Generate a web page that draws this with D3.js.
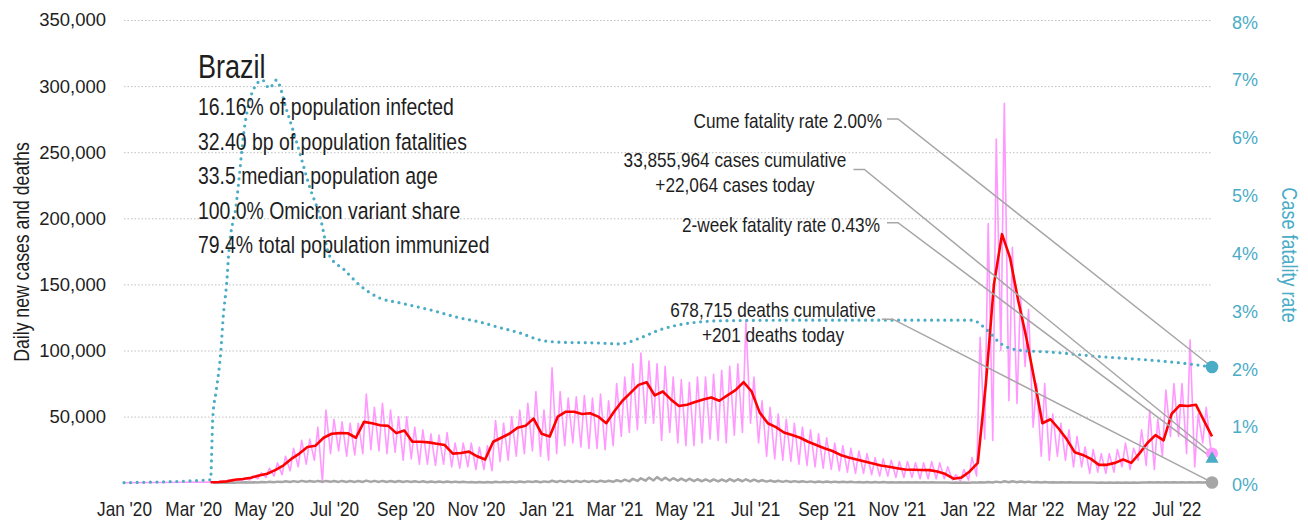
<!DOCTYPE html>
<html>
<head>
<meta charset="utf-8">
<script src="https://cdnjs.cloudflare.com/ajax/libs/d3/7.8.5/d3.min.js"></script>
<style>
  body { margin: 0; background: #fff; }
  svg { display: block; }
  svg text { font-family: 'Liberation Sans', Arial, sans-serif; }
</style>
</head>
<body>
<svg id="chart" width="1308" height="520"></svg>
<script>
// ---- data -------------------------------------------------------------
const seriesStart = "2020-01-01";
const seriesEnd = "2022-08-01";
const weekStart = "2020-03-16";   // first Monday of the weekly series

// 7-day average of new cases, one value per week (Mondays)
const cases7 = [
  300, 500, 1000, 2200, 2800, 3800, 5500, 6800, 9500, 13000,
  18000, 22000, 27000, 28000, 34000, 37000, 37500, 37400, 34000, 46000,
  45000, 43500, 43000, 37500, 39500, 31000, 31000, 30500, 29500, 28500,
  22000, 22500, 23500, 20000, 17500, 31000, 34000, 37000, 41500, 43000,
  48500, 37000, 35000, 50000, 53700, 53700, 52000, 52500, 50000, 45000,
  54000, 62000, 68000, 74000, 76000, 66000, 69000, 63000, 58000, 59000,
  61000, 63000, 64500, 62000, 66000, 70000, 76000, 69000, 53000, 45000,
  42000, 38000, 36000, 34000, 31000, 28500, 26000, 24000, 21000, 19000,
  17500, 16000, 14500, 13000, 12000, 11000, 10000, 9800, 9600, 9500,
  8500, 6500, 3000, 4000, 8500, 15000, 75000, 150000, 188000, 170000,
  138000, 110000, 78000, 45000, 48000, 41000, 33000, 23000, 21000, 18000,
  13500, 13500, 15000, 17500, 15000, 22000, 30000, 36000, 32000, 52000,
  58500, 58000, 59000, 47000, 35000
];

// daily new cases: mid-week high and weekend low of each week
const casesHigh = [
  500, 1200, 1800, 2500, 3500, 5000, 7500, 11000, 15000, 20000,
  26000, 32000, 33000, 42000, 55000, 48000, 46000, 45000, 45000, 67000,
  57000, 60000, 55000, 50000, 50000, 42000, 40000, 37000, 36000, 38000,
  30000, 30000, 30000, 27000, 28000, 47000, 45000, 50000, 55000, 60000,
  69000, 55000, 87000, 69000, 64000, 65000, 66000, 64000, 67000, 62000,
  75000, 80000, 90000, 98000, 92000, 90000, 88000, 80000, 78000, 76000,
  80000, 80000, 82000, 85000, 88000, 90000, 122000, 80000, 62000, 57000,
  52000, 48000, 45000, 42000, 40000, 37000, 34000, 30000, 28000, 26000,
  24000, 22000, 19000, 18000, 17000, 16000, 16000, 15000, 15000, 16000,
  15000, 12000, 6000, 10000, 19000, 110000, 196000, 260000, 287000, 178000,
  141000, 131000, 75000, 75000, 52000, 45000, 40000, 35000, 27000, 25000,
  22000, 22000, 25000, 30000, 26000, 40000, 55000, 48000, 70000, 75000,
  75000, 108000, 52000, 57000
];
const casesLow = [
  300, 500, 1000, 1500, 2000, 3000, 4000, 5000, 6000, 9000,
  12000, 14000, 17000, 0, 22000, 24000, 20000, 21000, 22000, 25000,
  24000, 22000, 23000, 17000, 18000, 14000, 14000, 13000, 14000, 12000,
  11000, 12000, 10000, 10000, 9000, 16000, 17000, 20000, 22000, 24000,
  20000, 17000, 22000, 28000, 30000, 27000, 26000, 26000, 25000, 28000,
  35000, 38000, 40000, 45000, 45000, 32000, 38000, 30000, 28000, 28000,
  30000, 33000, 32000, 30000, 36000, 38000, 45000, 30000, 20000, 18000,
  17000, 16000, 14000, 13000, 12000, 11000, 10000, 9000, 8000, 7000,
  7000, 6000, 5000, 5000, 4000, 4000, 4000, 3000, 3000, 3000,
  3000, 2000, 1000, 2000, 5000, 33000, 32000, 100000, 62000, 60000,
  88000, 42000, 20000, 17000, 20000, 17000, 12000, 12000, 7000, 8000,
  7000, 8000, 12000, 10000, 17000, 13000, 10000, 20000, 35000, 35000,
  22000, 12000, 30000, 25000
];

// daily new deaths: mid-week high and weekend low of each week
const deathsHigh = [
  10, 30, 80, 150, 250, 300, 450, 650, 800, 1100,
  1200, 1400, 1300, 1350, 1350, 1300, 1350, 1300, 1300, 1600,
  1400, 1350, 1300, 1250, 1200, 1100, 1100, 950, 900, 850,
  800, 700, 600, 550, 500, 750, 700, 800, 850, 1000,
  1100, 1000, 1500, 1400, 1400, 1400, 1400, 1400, 1450, 1500,
  1900, 2300, 2900, 3300, 3800, 4200, 3800, 3400, 3100, 3000,
  2600, 2500, 2500, 2400, 2700, 2600, 2600, 2300, 1900, 1600,
  1500, 1400, 1200, 1100, 1000, 950, 850, 800, 700, 650,
  600, 550, 500, 450, 400, 350, 300, 300, 280, 260,
  200, 150, 130, 150, 200, 300, 550, 800, 1100, 1100,
  950, 800, 600, 500, 400, 350, 250, 200, 180, 150,
  150, 150, 160, 180, 150, 200, 250, 300, 300, 350,
  380, 400, 330, 300
];
const deathsLow = [
  0, 10, 30, 60, 100, 150, 250, 350, 450, 550,
  600, 650, 650, 650, 650, 600, 600, 600, 600, 650,
  600, 600, 550, 500, 500, 450, 400, 380, 350, 320,
  300, 250, 200, 200, 200, 250, 300, 350, 400, 450,
  400, 450, 500, 550, 550, 600, 600, 600, 650, 700,
  900, 1000, 1300, 1500, 1700, 1800, 1700, 1500, 1300, 1200,
  1100, 1000, 1000, 1000, 1100, 1100, 1000, 900, 800, 700,
  600, 550, 500, 450, 400, 350, 320, 300, 280, 250,
  230, 200, 180, 160, 150, 120, 100, 100, 90, 80,
  60, 50, 40, 50, 60, 100, 150, 250, 300, 350,
  300, 250, 200, 150, 120, 100, 80, 70, 60, 50,
  50, 50, 50, 50, 50, 60, 80, 100, 100, 120,
  130, 130, 110, 100
];

// cumulative case fatality rate (%)
const cfrDates = [
  "2020-01-01", "2020-03-16", "2020-03-18", "2020-03-21", "2020-03-25", "2020-03-27",
  "2020-03-30", "2020-04-01", "2020-04-07", "2020-04-15", "2020-04-22", "2020-04-30",
  "2020-05-06", "2020-05-12", "2020-05-21", "2020-05-29", "2020-06-10", "2020-06-19",
  "2020-06-27", "2020-07-10", "2020-07-23", "2020-08-10", "2020-08-27", "2020-09-22",
  "2020-10-18", "2020-11-04", "2020-11-22", "2020-12-09", "2020-12-26", "2021-01-12",
  "2021-02-16", "2021-03-06", "2021-03-23", "2021-04-09", "2021-04-26", "2021-05-14",
  "2021-06-01", "2021-08-09", "2021-11-04", "2022-01-05", "2022-01-18", "2022-01-29",
  "2022-02-15", "2022-03-13", "2022-04-26", "2022-06-08", "2022-07-05", "2022-08-01"
];
const cfrValues = [
  0, 0.05, 1.14, 1.60, 2.29, 2.87,
  3.45, 4.02, 4.77, 6.22, 6.79, 6.96,
  6.82, 6.96, 6.44, 5.93, 5.11, 4.59,
  3.93, 3.68, 3.42, 3.19, 3.11, 2.99,
  2.85, 2.78, 2.68, 2.59, 2.47, 2.43,
  2.415, 2.40, 2.50, 2.64, 2.73, 2.78,
  2.80, 2.81, 2.81, 2.81, 2.64, 2.42,
  2.29, 2.26, 2.18, 2.12, 2.07, 2.00
];

// latest figures
const casesToday = 22064;
const deathsToday = 201;
const casesCumulative = 33855964;
const deathsCumulative = 678715;
const cumeFatalityRate = 2.00;
const twoWeekFatalityRate = 0.43;

const country = "Brazil";
const facts = [
  "16.16% of population infected",
  "32.40 bp of population fatalities",
  "33.5 median population age",
  "100.0% Omicron variant share",
  "79.4% total population immunized"
];

const countTicks = [50000, 100000, 150000, 200000, 250000, 300000, 350000];
const rateTicks = [0, 1, 2, 3, 4, 5, 6, 7, 8];
const monthTicks = [
  "2020-01-01", "2020-03-01", "2020-05-01", "2020-07-01", "2020-09-01", "2020-11-01",
  "2021-01-01", "2021-03-01", "2021-05-01", "2021-07-01", "2021-09-01", "2021-11-01",
  "2022-01-01", "2022-03-01", "2022-05-01", "2022-07-01"
];

// ---- colours & type ----------------------------------------------------------
const C_CASES = "#ff99ff", C_AVG = "#ff0000", C_DEATHS = "#a6a6a6",
      C_RATE = "#4bacc6", C_GRID = "#bfbfbf", C_TEXT = "#1e1e1e";
const NARROW = 0.82;   // horizontal squeeze giving a condensed face

// ---- scales ---------------------------------------------------------------
const parse = d3.utcParse("%Y-%m-%d");
const svg = d3.select("#chart");
const plotLeft = 124, plotRight = 1212, plotTop = 20, plotBottom = 482.7;

const x = d3.scaleUtc().domain([parse(seriesStart), parse(seriesEnd)]).range([plotLeft, plotRight]);
const y = d3.scaleLinear().domain([0, 350000]).range([plotBottom, plotTop]);
const yRate = d3.scaleLinear().domain([0, 8]).range([plotBottom, plotTop]);

const w0 = parse(weekStart);
const weekDate = (i, off) => d3.utcDay.offset(w0, 7 * i + off);

// condensed text placed at (px, py)
function narrowText(parent, px, py, size, extra = "") {
  return parent.append("text")
    .attr("transform", `translate(${px},${py}) ${extra} scale(${NARROW},1)`)
    .attr("font-size", size);
}

// ---- gridlines ---------------------------------------------------------
const grid = svg.append("g").attr("transform", `translate(${plotLeft},0)`)
  .call(d3.axisLeft(y).tickValues(countTicks).tickSize(-(plotRight - plotLeft)).tickFormat(""));
grid.select(".domain").remove();
grid.selectAll("line").attr("stroke", C_GRID).attr("stroke-width", 1).attr("stroke-dasharray", "1.5,2");

// ---- axes ------------------------------------------------------------------
const axL = svg.append("g").attr("transform", `translate(${plotLeft},0)`)
  .call(d3.axisLeft(y).tickValues(countTicks).tickSize(0).tickPadding(18).tickFormat(d3.format(",")));
axL.select(".domain").remove();
axL.attr("font-family", null).attr("font-size", null);
axL.selectAll("text").attr("font-size", 18.5).attr("fill", C_TEXT);

const axR = svg.append("g").attr("transform", `translate(${plotRight},0)`)
  .call(d3.axisRight(yRate).tickValues(rateTicks).tickSize(0).tickPadding(20).tickFormat(d => d + "%"));
axR.select(".domain").remove();
axR.attr("font-family", null).attr("font-size", null);
axR.selectAll("text").attr("font-size", 18).attr("fill", C_RATE).attr("dy", "0.45em");

const axB = svg.append("g").attr("transform", `translate(0,${plotBottom})`)
  .call(d3.axisBottom(x).tickValues(monthTicks.map(parse)).tickSize(0).tickPadding(18.5)
    .tickFormat(d3.utcFormat("%b '%y")));
axB.select(".domain").remove();
axB.attr("font-family", null).attr("font-size", null);
axB.selectAll("text").attr("font-size", 21).attr("fill", C_TEXT)
  .attr("transform", `scale(${NARROW},1)`);

narrowText(svg, 28.5, 252, 21.5, "rotate(-90)")
  .attr("text-anchor", "middle").attr("fill", C_TEXT)
  .text("Daily new cases and deaths");

narrowText(svg, 1282, 255, 22, "rotate(90)")
  .attr("text-anchor", "middle").attr("fill", C_RATE)
  .text("Case fatality rate");

// ---- series ----------------------------------------------------------------
const dailyCases = [{ d: parse(seriesStart), v: 0 }];
casesHigh.forEach((v, i) => {
  dailyCases.push({ d: weekDate(i, 2), v });
  dailyCases.push({ d: weekDate(i, 6), v: casesLow[i] });
});
dailyCases.push({ d: parse(seriesEnd), v: casesToday });

const dailyDeaths = [];
deathsHigh.forEach((v, i) => {
  dailyDeaths.push({ d: weekDate(i, 2), v });
  dailyDeaths.push({ d: weekDate(i, 6), v: deathsLow[i] });
});
dailyDeaths.push({ d: parse(seriesEnd), v: deathsToday });

const avgCases = cases7.map((v, i) => ({ d: weekDate(i, 0), v }));
const rate = cfrDates.map((d, i) => ({ d: parse(d), v: cfrValues[i] }));

const lineCount = d3.line().x(p => x(p.d)).y(p => y(p.v));
const lineRate = d3.line().x(p => x(p.d)).y(p => yRate(p.v)).curve(d3.curveMonotoneX);

svg.append("path").datum(dailyCases).attr("d", lineCount)
  .attr("fill", "none").attr("stroke", C_CASES).attr("stroke-width", 1.6).attr("stroke-linejoin", "round");
svg.append("path").datum(dailyDeaths).attr("d", lineCount)
  .attr("fill", "none").attr("stroke", C_DEATHS).attr("stroke-width", 2.5).attr("stroke-linejoin", "round");
svg.append("path").datum(avgCases).attr("d", lineCount)
  .attr("fill", "none").attr("stroke", C_AVG).attr("stroke-width", 2.6).attr("stroke-linejoin", "round");
svg.append("path").datum(rate).attr("d", lineRate)
  .attr("fill", "none").attr("stroke", C_RATE).attr("stroke-width", 3.2)
  .attr("stroke-dasharray", "0,6.6").attr("stroke-linecap", "round");

// ---- country facts ------------------------------------------------------
const info = svg.append("g").attr("fill", C_TEXT);
narrowText(info, 198, 78, 33).text(country);
facts.forEach((f, i) => narrowText(info, 198, 115 + i * 34.5, 23.7).text(f));

// ---- latest-value callouts ---------------------------------------------------
const fmt = d3.format(",");
const markerX = x(parse(seriesEnd));
const callouts = [
  { lines: [`Cume fatality rate ${cumeFatalityRate.toFixed(2)}%`], anchor: "end", ax: 882, ay: 128,
    ty: yRate(cumeFatalityRate), gap: 5 },
  { lines: [`${fmt(casesCumulative)} cases cumulative`, `+${fmt(casesToday)} cases today`], anchor: "middle", ax: 735, ay: 167,
    ty: y(casesToday), gap: 7 },
  { lines: [`2-week fatality rate ${twoWeekFatalityRate.toFixed(2)}%`], anchor: "end", ax: 880, ay: 231.7,
    ty: yRate(twoWeekFatalityRate), gap: 7 },
  { lines: [`${fmt(deathsCumulative)} deaths cumulative`, `+${fmt(deathsToday)} deaths today`], anchor: "middle", ax: 773, ay: 316.7,
    ty: y(deathsToday), gap: 6 }
];
const cg = svg.append("g");
callouts.forEach(c => {
  const t = narrowText(cg, c.ax, c.ay, 21).attr("text-anchor", c.anchor).attr("fill", C_TEXT);
  c.lines.forEach((s, k) => t.append("tspan").attr("x", 0).attr("y", k * 25).text(s));
  const b = t.select("tspan").node().getBBox();
  const sx = c.ax + (b.x + b.width) * NARROW + c.gap;
  const sy = c.lines.length > 1 ? c.ay + 2.5 : c.ay - 9;
  cg.append("polyline")
    .attr("points", [[sx, sy], [sx + 11, sy], [markerX, c.ty]].map(p => p.join(",")).join(" "))
    .attr("fill", "none").attr("stroke", "#a6a6a6").attr("stroke-width", 1.5);
});

// ---- end markers -----------------------------------------------------------
svg.append("circle").attr("cx", markerX).attr("cy", y(casesToday)).attr("r", 6).attr("fill", C_CASES);
svg.append("circle").attr("cx", markerX).attr("cy", y(deathsToday)).attr("r", 6.3).attr("fill", C_DEATHS);
svg.append("circle").attr("cx", markerX).attr("cy", yRate(cumeFatalityRate)).attr("r", 6.3).attr("fill", C_RATE);
svg.append("path")
  .attr("transform", `translate(${markerX},${yRate(twoWeekFatalityRate) + 1})`)
  .attr("d", d3.symbol(d3.symbolTriangle, 75)())
  .attr("fill", C_RATE);
</script>
</body>
</html>
